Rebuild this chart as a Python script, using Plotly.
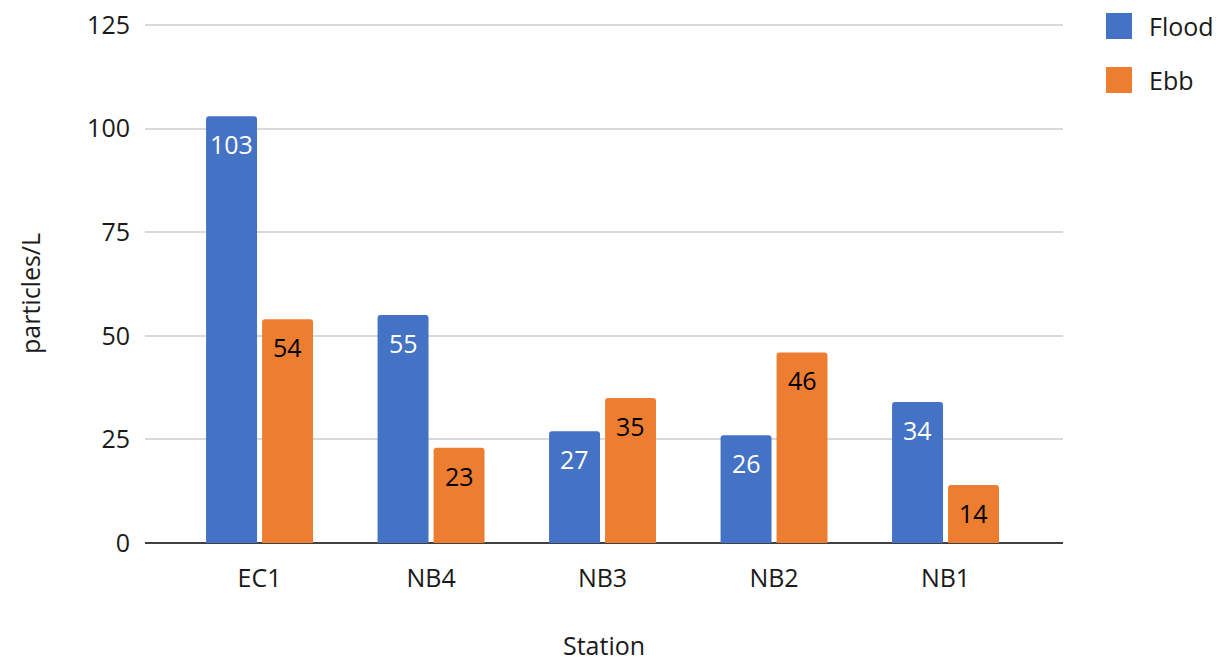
import plotly.graph_objects as go

stations = ["EC1", "NB4", "NB3", "NB2", "NB1"]
flood = [103, 55, 27, 26, 34]
ebb = [54, 23, 35, 46, 14]
y_ticks = [0, 25, 50, 75, 100, 125]

FLOOD_COLOR = "#4472C4"
EBB_COLOR = "#ED7D31"
FONT = "Open Sans"
TEXT_COLOR = "#1a1a1a"
FS = 25

BARGAP = 0.347
BARGROUPGAP = 0.09

# plot area in pixels
L, R, T, B = 145, 160, 23, 119
PW, PH = 1223 - L - R, 662 - T - B

fig = go.Figure()
fig.add_trace(go.Bar(name="Flood", x=stations, y=flood, marker_color=FLOOD_COLOR,
                     marker_line_width=0, showlegend=False))
fig.add_trace(go.Bar(name="Ebb", x=stations, y=ebb, marker_color=EBB_COLOR,
                     marker_line_width=0, showlegend=False))

# value labels sitting just inside the top of each bar
half = (1 - BARGAP) / 4
for i, (f, e) in enumerate(zip(flood, ebb)):
    fig.add_annotation(x=i - half, y=f, xref="x", yref="y", text=str(f),
                       showarrow=False, yanchor="top", yshift=-9,
                       font=dict(family=FONT, size=FS, color="white"))
    fig.add_annotation(x=i + half, y=e, xref="x", yref="y", text=str(e),
                       showarrow=False, yanchor="top", yshift=-9,
                       font=dict(family=FONT, size=FS, color="black"))


# helpers: pixel position -> paper fraction
def px_x(x):
    return (x - L) / PW


def px_y(y):
    return (662 - B - y) / PH


# legend drawn as swatches + labels on the right
legend_items = [("Flood", FLOOD_COLOR, 26), ("Ebb", EBB_COLOR, 80)]
for label, color, yc in legend_items:
    fig.add_shape(type="rect", xref="paper", yref="paper",
                  x0=px_x(1106), x1=px_x(1132),
                  y0=px_y(yc + 13), y1=px_y(yc - 13),
                  fillcolor=color, line_width=0)
    fig.add_annotation(xref="paper", yref="paper",
                       x=px_x(1147), y=px_y(yc),
                       text=label, showarrow=False, xanchor="left", yanchor="middle",
                       font=dict(family=FONT, size=FS, color=TEXT_COLOR))

# axis titles
fig.add_annotation(xref="paper", yref="paper", x=px_x(604), y=px_y(645),
                   text="Station", showarrow=False, xanchor="center", yanchor="middle",
                   font=dict(family=FONT, size=FS, color=TEXT_COLOR))
fig.add_annotation(xref="paper", yref="paper", x=px_x(30), y=px_y(294),
                   text="particles/L", showarrow=False, textangle=-90,
                   xanchor="center", yanchor="middle",
                   font=dict(family=FONT, size=FS, color=TEXT_COLOR))

fig.update_layout(
    width=1223, height=662,
    margin=dict(l=L, r=R, t=T, b=B, autoexpand=False),
    paper_bgcolor="white", plot_bgcolor="white",
    barmode="group", bargap=BARGAP, bargroupgap=BARGROUPGAP,
    barcornerradius=3,
    font=dict(family=FONT, size=FS, color=TEXT_COLOR),
    showlegend=False,
    xaxis=dict(
        range=[-0.668, 4.685], showgrid=False, ticks="", ticklabelstandoff=18,
        showline=False, zeroline=False, automargin=False,
        tickfont=dict(family=FONT, size=FS, color=TEXT_COLOR),
    ),
    yaxis=dict(
        range=[0, 125.5], tickvals=y_ticks, showgrid=True, gridcolor="#d9d9d9",
        gridwidth=1.5, zeroline=True, zerolinecolor="#404040", zerolinewidth=2,
        ticks="", ticklabelstandoff=14, showline=False, automargin=False,
        tickfont=dict(family=FONT, size=FS, color=TEXT_COLOR),
    ),
)

fig.write_html("out.html")
